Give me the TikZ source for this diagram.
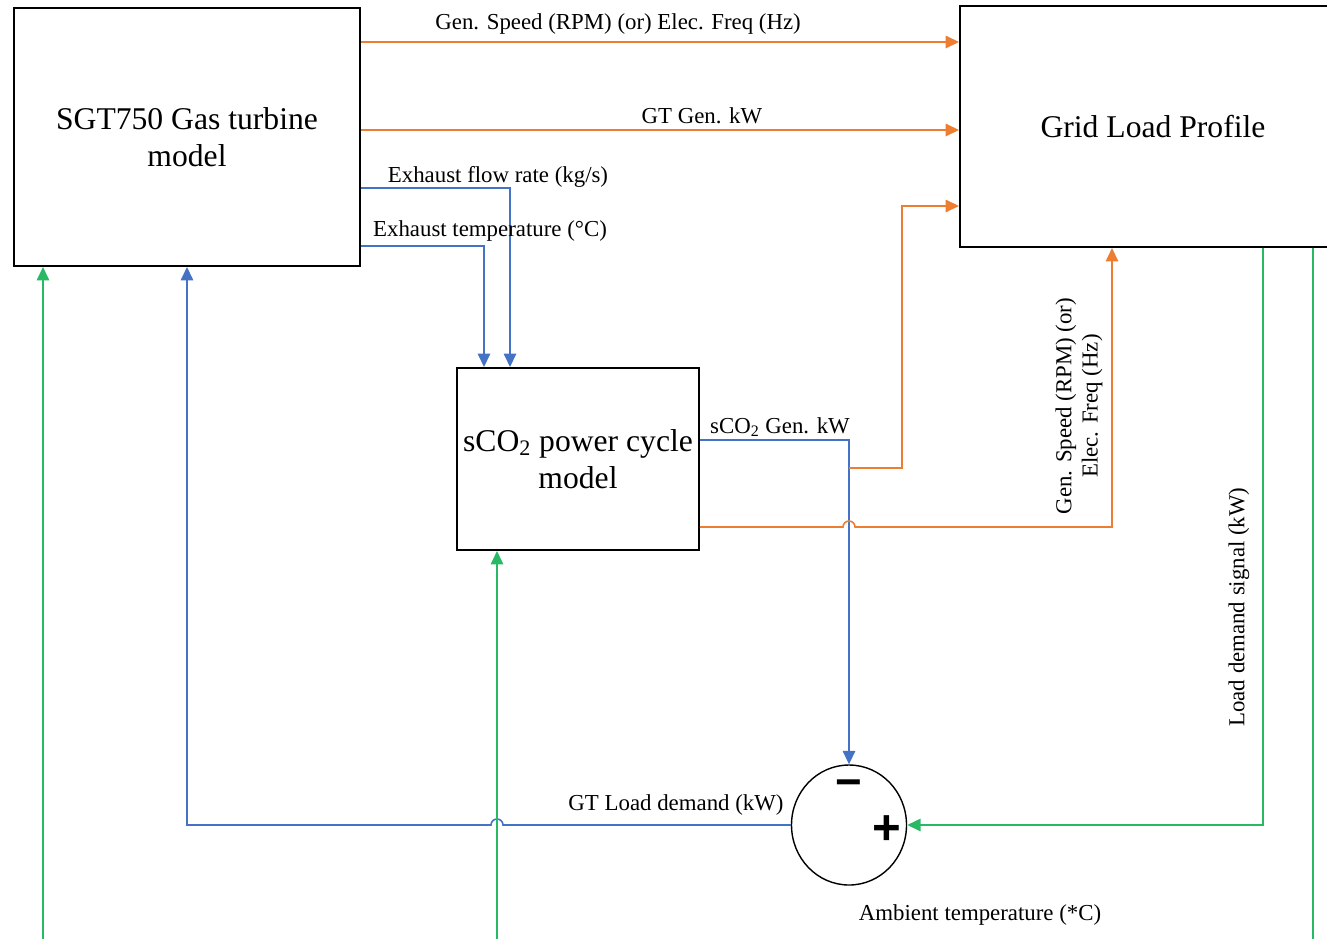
\documentclass[tikz,border=0pt]{standalone}
\usepackage{fontspec}
\setmainfont{Liberation Serif}
\newfontfamily\signfont{Liberation Sans}
\usetikzlibrary{arrows.meta,positioning,shapes.geometric}

\definecolor{sigorange}{RGB}{237,125,49}
\definecolor{sigblue}{RGB}{68,114,196}
\definecolor{siggreen}{RGB}{40,185,100}

\tikzset{
  block/.style={draw, line width=1.1pt, rectangle, fill=white, align=center,
    font=\fontsize{18}{21}\selectfont},
  lbl/.style={font=\fontsize{13}{15}\selectfont, inner sep=1pt},
  tip/.style={-{Triangle[length=2.7mm,width=2.5mm]}},
  org/.style={draw=sigorange, line width=0.9pt, tip},
  blu/.style={draw=sigblue, line width=0.9pt, tip},
  grn/.style={draw=siggreen, line width=0.9pt, tip},
  grnline/.style={draw=siggreen, line width=0.9pt}
}

\begin{document}
\begin{tikzpicture}[x=0.2mm,y=-0.2mm]
    \useasboundingbox (0,0) rectangle (1327,939);
    \clip (0,0) rectangle (1327,939);

    % Model blocks
    \node[block, minimum width=6.92cm, minimum height=5.16cm] (gt) at (187,137) {SGT750 Gas turbine\\model};
    \node[block, minimum width=7.72cm, minimum height=4.82cm] (grid) at (1153,126.5) {Grid Load Profile};
    \node[block, minimum width=4.84cm, minimum height=3.64cm] (sco) at (578,459) {sCO\textsubscript{2} power cycle\\model};

    % Summing junction
    \node[draw, line width=0.8pt, ellipse, minimum width=2.3cm, minimum height=2.4cm] (sum) at (849,825) {};
    \node[font=\signfont\bfseries\fontsize{26}{26}\selectfont] (minus) at (849,789) {−};
    \node[font=\signfont\bfseries\fontsize{28}{28}\selectfont] (plus) at (887,830) {+};

    % GT outputs to grid
    \draw[org] (gt.east |- 0,42) -- (grid.west |- 0,42)
        node[lbl, above=3pt, pos=0.43] (spdlbl) {Gen. Speed (RPM) (or) Elec. Freq (Hz)};
    \draw[org] (gt.east |- 0,130) -- (grid.west |- 0,130)
        node[lbl, above=2pt, pos=0.57] (gtkwlbl) {GT Gen. kW};

    % Exhaust to sCO2 cycle
    \draw[blu] (gt.east |- 0,188) -| (sco.north -| 510,0);
    \node[lbl] (flowlbl) at (498,177) {Exhaust flow rate (kg/s)};
    \draw[blu] (gt.east |- 0,246) -| (sco.north -| 484,0);
    \node[lbl] (templbl) at (490,231) {Exhaust temperature (°C)};

    % sCO2 outputs
    \draw[blu] (sco.east |- 0,440) -| (sum.north);
    \node[lbl] (scokwlbl) at (780,427) {sCO\textsubscript{2} Gen. kW};
    \coordinate (tap) at (849,468);
    \draw[org] (tap) -- ++(53,0) |- (grid.west |- 0,206);
    \draw[org] (sco.east |- 0,527) -- (843,527) arc[start angle=180, end angle=0, radius=1.2mm]
        -- (1112,527) -- (grid.south -| 1112,0);
    \node[lbl, rotate=90, align=center] (spd2lbl) at (1079,406) {Gen. Speed (RPM) (or)\\Elec. Freq (Hz)};

    % Load demand feedback
    \draw[grn] (grid.south -| 1263,0) |- (sum.east);
    \node[lbl, rotate=90] (loadlbl) at (1239,607) {Load demand signal (kW)};
    \coordinate (gridout) at (1313,939);
    \draw[grnline] (grid.south -| 1313,0) -- (gridout);
    \draw[blu] (sum.west) -- (503,825) arc[start angle=0, end angle=180, radius=1.2mm]
        -| (gt.south);
    \node[lbl] (gtldlbl) at (676,805) {GT Load demand (kW)};

    % Ambient temperature inputs
    \coordinate (ambgt) at (43,939);
    \coordinate (ambsco) at (497,939);
    \draw[grn] (ambgt) -- (gt.south -| ambgt);
    \draw[grn] (ambsco) -- (sco.south -| ambsco);
    \node[lbl] (amblbl) at (980,915) {Ambient temperature (*C)};
\end{tikzpicture}
\end{document}
